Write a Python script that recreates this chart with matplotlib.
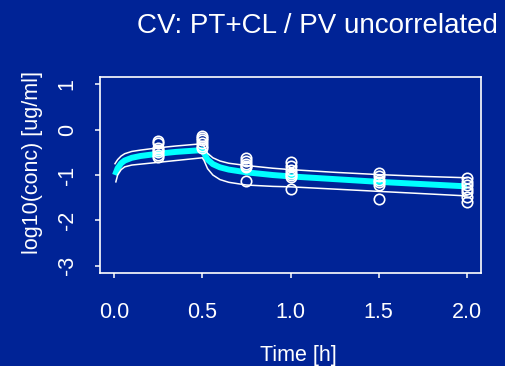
import numpy as np
import matplotlib
matplotlib.use("Agg")
import matplotlib.pyplot as plt

plt.rcParams["font.family"] = ["Liberation Sans", "DejaVu Sans"]

BG = "#002396"

# model curves (time in h, log10 conc)
t_mean = [0.005, 0.02, 0.04, 0.06, 0.1, 0.15, 0.25, 0.35, 0.5, 0.51, 0.53, 0.56,
          0.6, 0.65, 0.75, 0.9, 1.0, 1.25, 1.5, 1.75, 2.0]
mean = [-1.0, -0.85, -0.74, -0.68, -0.62, -0.58, -0.53, -0.49, -0.45, -0.52, -0.66, -0.76,
        -0.83, -0.88, -0.94, -1.0, -1.03, -1.09, -1.15, -1.2, -1.25]
upper = [-0.75, -0.66, -0.58, -0.53, -0.48, -0.45, -0.40, -0.36, -0.31, -0.37, -0.52, -0.62,
         -0.69, -0.74, -0.79, -0.85, -0.88, -0.94, -0.99, -1.03, -1.06]
t_low = [0.01, 0.02, 0.04, 0.06, 0.1, 0.15, 0.25, 0.35, 0.5, 0.51, 0.53, 0.56,
         0.6, 0.65, 0.75, 0.9, 1.0, 1.25, 1.5, 1.75, 2.0]
lower = [-1.15, -1.0, -0.88, -0.82, -0.78, -0.76, -0.72, -0.68, -0.62, -0.68, -0.86, -1.0,
         -1.1, -1.16, -1.22, -1.25, -1.26, -1.31, -1.36, -1.41, -1.46]

# observations
obs_t = [0.25] * 7 + [0.5] * 6 + [0.75] * 6 + [1.0] * 7 + [1.5] * 6 + [2.0] * 7
obs_y = [-0.25, -0.3, -0.4, -0.45, -0.5, -0.55, -0.6,
         -0.13, -0.18, -0.22, -0.3, -0.35, -0.4,
         -0.63, -0.7, -0.75, -0.8, -0.83, -1.13,
         -0.72, -0.8, -0.88, -0.95, -1.0, -1.05, -1.3,
         -0.95, -1.02, -1.1, -1.15, -1.22, -1.53,
         -1.07, -1.15, -1.22, -1.3, -1.38, -1.48, -1.6]

xticks = [0.0, 0.5, 1.0, 1.5, 2.0]
yticks = [-3, -2, -1, 0, 1]

fig = plt.figure(figsize=(5.05, 3.66), dpi=100, facecolor=BG)
ax = fig.add_axes([0.198, 0.254, 0.7545, 0.5355], facecolor=BG)

ax.plot(t_mean, mean, color="#00ffff", lw=4.3, solid_capstyle="butt")
ax.plot(t_mean, upper, color="white", lw=1.1)
ax.plot(t_low, lower, color="white", lw=1.1)
ax.plot(obs_t, obs_y, "o", ms=7.5, mfc="none", mec="white", mew=1.2)

ax.set_xlim(-0.08, 2.08)
ax.set_ylim(-3.16, 1.16)
ax.set_xticks(xticks)
ax.set_xticklabels([f"{v:.1f}" for v in xticks])
ax.set_yticks(yticks)
ax.set_yticklabels([str(v) for v in yticks], rotation=90, va="center")

for s in ax.spines.values():
    s.set_color("white")
    s.set_linewidth(1.2)
ax.tick_params(colors="white", length=3.5, width=1.1, labelsize=15.5)
ax.tick_params(axis="x", pad=17)
ax.tick_params(axis="y", pad=12.5)

fig.text(0.985, 0.91, "CV: PT+CL / PV uncorrelated", color="white", fontsize=20,
         ha="right", va="baseline")
fig.text(0.59, 0.0123, "Time [h]", color="white", fontsize=15.5, ha="center", va="baseline")
fig.text(0.064, 0.555, "log10(conc) [ug/ml]", color="white", fontsize=15.5,
         rotation=90, ha="center", va="center")

fig.savefig("out.png", dpi=100, facecolor=BG)
